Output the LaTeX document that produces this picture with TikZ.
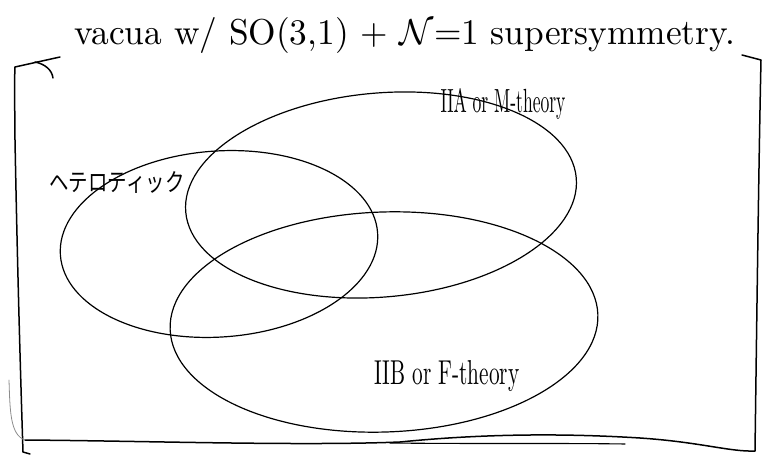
\documentclass[tikz,border=0pt]{standalone}
\usepackage{fontspec}
\usepackage{graphicx}
\usetikzlibrary{shapes.geometric}
\newfontfamily\jpfont{Noto Sans CJK JP}
\tikzset{
  pen/.style={line width=1.5pt, black, line cap=round, line join=round},
  faint/.style={line width=0.8pt, black!45, line cap=round},
  oval/.style={ellipse, draw, line width=1.2pt, inner sep=0pt},
  lbl/.style={inner sep=0pt, anchor=center}
}
\begin{document}
\begin{tikzpicture}[x=1pt,y=-1pt]
\useasboundingbox (0,0) rectangle (771,462);
% title
\node[lbl] (title) at (405,36) {\resizebox{660pt}{27pt}{vacua w/ SO(3,1) + $\mathcal{N}$=1 supersymmetry.}};
% frame
\coordinate (tlA) at (15,67);
\coordinate (tlB) at (60,57);
\coordinate (tlC) at (35,62);
\coordinate (tlD) at (53,78);
\coordinate (bl) at (23,452);
\coordinate (blh) at (30,454);
\coordinate (b0) at (25,440);
\coordinate (br) at (755,451);
\coordinate (tr) at (761,60);
\coordinate (tr0) at (742,55);
\draw[pen] (tlB) -- (tlA) .. controls (14,90) and (15,110) .. (15,140) .. controls (18,300) and (22,420) .. (bl) -- (blh);
\draw[pen] (tlC) .. controls (45,64) and (52,70) .. (tlD);
\draw[pen] (b0) .. controls (150,441) and (300,446) .. (400,442) .. controls (480,434) and (560,433) .. (640,438) .. controls (700,442) and (730,452) .. (br) .. controls (757,300) and (759,150) .. (tr) -- (tr0);
\draw[pen, line width=1.1pt] (390,443) .. controls (480,444) and (560,443) .. (625,444);
\draw[faint] (9,380) .. controls (10,410) and (10,435) .. (b0);
% ellipses
\node[oval, minimum width=392pt, minimum height=204pt, rotate=5] (iia) at (381,195) {};
\node[oval, minimum width=318pt, minimum height=186pt, rotate=4] (het) at (219,244) {};
\node[oval, minimum width=428pt, minimum height=220pt, rotate=2] (iib) at (384,322) {};
% labels
\node[lbl] (liia) at (503,104) {\resizebox{125pt}{24pt}{IIA or M-theory}};
\node[lbl] (lhet) at (117,182) {\resizebox{135pt}{20pt}{\jpfont ヘテロティック}};
\node[lbl] (liib) at (447,376) {\resizebox{145pt}{24pt}{IIB or F-theory}};
\end{tikzpicture}
\end{document}
